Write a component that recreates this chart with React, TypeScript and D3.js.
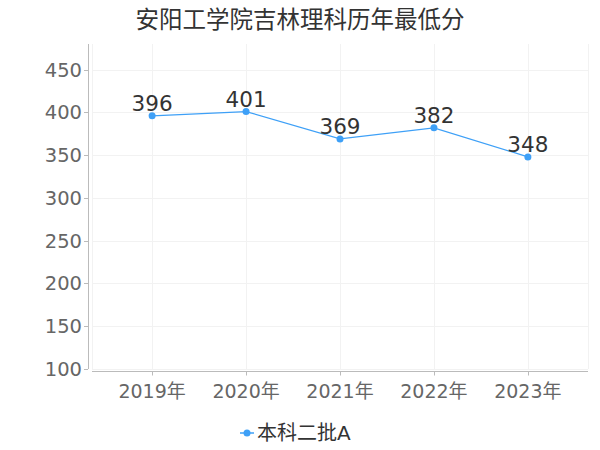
import React, { useEffect, useRef } from 'react'
import * as d3 from 'd3'

const title = '安阳工学院吉林理科历年最低分'
const years = ['2019年', '2020年', '2021年', '2022年', '2023年']
const scores = [396, 401, 369, 382, 348]
const seriesName = '本科二批A'
const yTicks = [100, 150, 200, 250, 300, 350, 400, 450]

const W = 600
const H = 450
const FONT = '"DejaVu Sans", "Noto Sans CJK SC", sans-serif'
const LINE = '#3ea0f7'

export default function App() {
  const ref = useRef<SVGSVGElement>(null)

  useEffect(() => {
    const svg = d3.select(ref.current!)
    svg.selectAll('*').remove()
    svg.style('font-family', FONT)

    const left = 88
    const right = 588
    const top = 44
    const bottom = 369

    const x = d3.scalePoint<string>().domain(years).range([left + 4, right]).padding(0.64)
    const y = d3.scaleLinear().domain([100, 480]).range([bottom, top])

    // title
    svg.append('text')
      .attr('x', 300).attr('y', 28)
      .attr('text-anchor', 'middle')
      .attr('font-size', 23.5).attr('fill', '#333')
      .text(title)

    // grid
    const grid = svg.append('g').attr('stroke', '#f2f2f2').attr('stroke-width', 1)
    grid.selectAll('line.h').data(yTicks).enter().append('line')
      .attr('x1', left + 4).attr('x2', right)
      .attr('y1', d => Math.round(y(d)) + 0.5).attr('y2', d => Math.round(y(d)) + 0.5)
    const vx = [left + 4, ...years.map(d => x(d)!), right]
    grid.selectAll('line.v').data(vx).enter().append('line')
      .attr('x1', d => Math.round(d) + 0.5).attr('x2', d => Math.round(d) + 0.5)
      .attr('y1', top).attr('y2', bottom)

    // y axis
    svg.append('line')
      .attr('x1', left + 0.5).attr('x2', left + 0.5)
      .attr('y1', top).attr('y2', bottom)
      .attr('stroke', '#bbb')
    const yt = svg.append('g')
    yt.selectAll('line').data(yTicks).enter().append('line')
      .attr('x1', left - 4).attr('x2', left)
      .attr('y1', d => Math.round(y(d)) + 0.5).attr('y2', d => Math.round(y(d)) + 0.5)
      .attr('stroke', '#bbb')
    yt.selectAll('text').data(yTicks).enter().append('text')
      .attr('x', left - 6).attr('y', d => y(d))
      .attr('dy', '0.36em')
      .attr('text-anchor', 'end')
      .attr('font-size', 19.5).attr('fill', '#666')
      .text(d => d)

    // x axis
    const axY = bottom + 2.5
    svg.append('line')
      .attr('x1', left + 4).attr('x2', right)
      .attr('y1', axY).attr('y2', axY)
      .attr('stroke', '#bbb')
    const xt = svg.append('g')
    xt.selectAll('line').data(years).enter().append('line')
      .attr('x1', d => Math.round(x(d)!) + 0.5).attr('x2', d => Math.round(x(d)!) + 0.5)
      .attr('y1', axY).attr('y2', axY + 4)
      .attr('stroke', '#bbb')
    xt.selectAll('text').data(years).enter().append('text')
      .attr('x', d => x(d)!).attr('y', 398)
      .attr('text-anchor', 'middle')
      .attr('font-size', 19).attr('fill', '#666')
      .text(d => d)

    // line
    const pts = years.map((d, i) => [x(d)!, y(scores[i])] as [number, number])
    svg.append('path')
      .attr('d', d3.line()(pts)!)
      .attr('fill', 'none').attr('stroke', LINE).attr('stroke-width', 1.2)
    svg.selectAll('circle.pt').data(pts).enter().append('circle')
      .attr('cx', d => d[0]).attr('cy', d => d[1]).attr('r', 3.5)
      .attr('fill', LINE)
    svg.selectAll('text.lbl').data(pts).enter().append('text')
      .attr('x', d => d[0]).attr('y', d => d[1] - 5)
      .attr('text-anchor', 'middle')
      .attr('font-size', 21.5).attr('fill', '#333')
      .text((_d, i) => scores[i])

    // legend
    const lg = svg.append('g').attr('transform', 'translate(240,433)')
    lg.append('line').attr('x1', 0).attr('x2', 14).attr('y1', 0).attr('y2', 0)
      .attr('stroke', LINE).attr('stroke-width', 1.5)
    lg.append('circle').attr('cx', 7).attr('cy', 0).attr('r', 3.5).attr('fill', LINE)
    lg.append('text').attr('x', 17).attr('y', 0).attr('dy', '0.36em')
      .attr('font-size', 20).attr('fill', '#333')
      .text(seriesName)
  }, [])

  return (
    <svg ref={ref} width={W} height={H}
      style={{ position: 'absolute', left: 0, top: 0, background: '#fff' }} />
  )
}
